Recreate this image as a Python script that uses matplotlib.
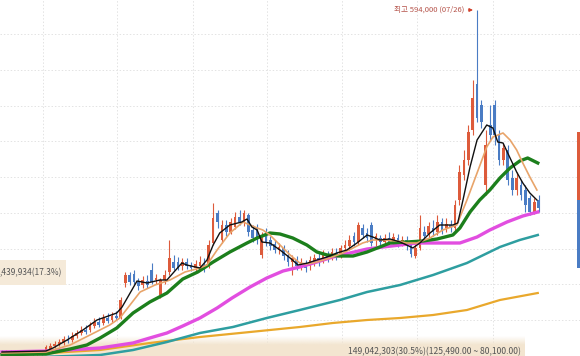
import matplotlib
matplotlib.use('Agg')
import matplotlib.pyplot as plt
import numpy as np
from matplotlib.patches import Rectangle

plt.rcParams['font.family'] = ['Noto Sans CJK KR', 'DejaVu Sans']

# ---- candle data (price, thousand won) ----
opens = [116.6,115.2,116.6,115.2,116.6,115.2,116.6,115.2,113.8,115.2,
         115.2,119.4,123.6,126.4,127.8,132.0,132.0,137.6,141.8,146.0,
         146.0,151.6,157.2,155.8,162.8,160.0,165.6,162.8,211.8,223.0,
         224.4,213.2,209.0,214.6,230.0,216.0,195.0,216.0,227.2,241.2,
         241.2,235.6,241.2,237.0,232.8,235.6,237.0,235.6,267.8,309.8,
         272.0,293.0,283.2,290.2,304.2,297.2,307.0,286.0,288.8,251.0,
         283.2,272.0,266.4,258.0,260.8,251.0,241.2,244.0,235.6,238.4,
         235.6,241.2,246.8,244.0,249.6,248.2,253.8,251.0,260.8,263.6,
         277.6,269.2,288.8,281.8,293.0,272.0,274.8,269.2,274.8,269.2,
         274.8,269.2,272.0,265.0,249.6,260.8,283.2,280.4,288.8,283.2,
         297.2,288.8,293.0,288.8,328.0,363.0,384.0,426.0,490.4,461.0,
         349.0,433.0,461.0,419.0,384.0,398.0,358.8,342.0,349.0,342.0,
         330.8,311.2,328.0]
closes = [115.2,116.6,115.2,116.6,115.9,116.6,115.2,113.8,115.2,113.8,
          122.2,123.6,126.4,129.2,133.4,130.6,137.6,141.8,146.0,143.2,
          151.6,157.2,153.0,162.8,158.6,165.6,162.8,188.0,223.0,213.2,
          213.2,207.6,216.0,209.0,213.2,218.8,216.0,223.0,246.8,232.8,
          232.8,241.2,235.6,232.8,238.4,241.2,232.8,265.0,302.8,297.2,
          293.0,283.2,297.2,304.2,297.2,309.8,283.2,274.8,272.0,277.6,
          269.2,263.6,258.0,262.2,249.6,241.2,246.8,235.6,241.2,232.8,
          244.0,246.8,241.2,251.0,246.8,255.2,249.6,260.8,265.0,272.0,
          269.2,293.0,279.0,274.8,267.8,277.6,269.2,274.8,269.2,276.2,
          269.2,272.0,263.6,252.4,260.8,288.8,277.6,291.6,283.2,297.2,
          286.0,294.4,288.8,321.0,367.2,384.0,423.2,470.8,442.8,437.2,
          405.0,419.0,419.0,384.0,400.8,356.0,342.0,358.8,335.0,321.0,
          311.2,325.2,316.8]
highs = [118.0,118.0,118.0,118.0,118.0,118.0,118.0,116.6,116.6,116.6,
         125.0,127.8,130.6,133.4,137.6,139.0,143.2,146.0,151.6,153.0,
         157.2,162.8,164.2,168.4,169.8,171.2,172.6,192.2,227.2,227.2,
         230.0,218.8,221.6,223.0,239.8,224.4,218.8,230.0,272.0,251.0,
         248.2,246.8,246.8,241.2,244.0,249.6,246.8,272.0,323.8,314.0,
         300.0,300.0,302.8,311.2,314.0,314.0,309.8,293.0,294.4,283.2,
         288.8,277.6,272.0,267.8,265.0,258.0,251.0,249.6,246.8,244.0,
         249.6,252.4,253.8,258.0,256.6,260.8,260.8,265.0,272.0,279.0,
         283.2,297.2,294.4,288.8,297.2,281.8,279.0,280.4,283.2,281.8,
         280.4,277.6,277.6,272.0,266.4,307.0,291.6,297.2,300.0,307.0,
         302.8,302.8,300.0,328.0,377.0,398.0,433.0,496.0,594.0,468.0,
         426.0,461.0,468.0,426.0,407.8,405.0,370.0,367.2,356.0,349.0,
         335.0,330.8,335.0]
lows = [113.8,113.8,113.8,113.8,113.8,112.4,112.4,111.0,111.0,111.0,
        113.8,118.0,120.8,123.6,125.0,127.8,129.2,134.8,139.0,140.4,
        143.2,148.8,150.2,153.0,155.8,157.2,160.0,161.4,206.2,209.0,
        210.4,202.0,204.8,204.8,210.4,210.4,190.8,210.4,223.0,230.0,
        230.0,230.0,231.4,228.6,227.2,230.0,227.2,232.8,265.0,288.8,
        267.8,277.6,280.4,287.4,293.0,291.6,277.6,269.2,266.4,246.8,
        263.6,258.0,253.8,252.4,244.0,235.6,223.0,230.0,230.0,227.2,
        230.0,235.6,235.6,239.8,241.2,244.0,244.0,246.8,255.2,258.0,
        263.6,265.0,274.8,269.2,263.6,263.6,262.2,263.6,263.6,265.0,
        262.2,263.6,258.0,248.2,246.8,258.0,272.0,274.8,277.6,279.0,
        280.4,283.2,283.2,283.2,321.0,356.0,377.0,419.0,437.2,428.8,
        335.0,412.0,405.0,377.0,377.0,349.0,335.0,335.0,328.0,311.2,
        307.0,308.4,311.2]

# ---- moving averages (bar index, price) ----
ma5_x = [0,10,11.6,14.8,18.4,21.6,26.1,27.3,30.7,33.0,35.9,37.5,38.9,40.9,42.0,45.0,46.6,48.0,49.5,51.8,
         54.5,55.7,56.8,58.0,59.1,60.9,63.2,65.5,67.3,69.5,71.6,73.9,76.1,78.4,80.7,83.0,84.3,85.9,88.2,90.5,
         92.0,93.4,95.0,97.3,99.5,102.5,103.6,104.8,106.4,108.0,110.2,111.6,112.7,113.9,115.5,117.0,118.4,120.0,121.6]
ma5_y = [115.2,116.6,120.8,132.0,146.0,160.0,169.8,178.2,214.6,211.8,216.0,216.0,225.8,239.8,237.0,232.8,244.0,265.0,281.8,293.0,
         297.2,301.4,290.2,286.0,269.2,267.8,258.0,246.8,237.0,239.8,244.0,248.2,253.8,258.0,267.8,279.0,276.2,272.0,273.4,269.2,
         265.0,260.8,267.8,281.8,293.0,293.0,295.8,328.0,374.2,412.0,433.0,428.8,409.2,407.8,386.8,367.2,351.8,337.8,328.0]

ma10_x = [0,10,11.6,15.5,20.0,24.5,26.8,29.1,31.4,34.8,38.2,41.6,45.0,46.6,48.9,51.8,54.8,56.4,58.0,59.3,
          60.9,63.2,65.5,67.7,69.3,71.6,74.5,77.5,79.8,82.0,84.3,86.6,89.8,92.0,94.3,97.3,100.2,103.4,105.7,108.0,
          110.2,111.6,113.9,115.5,117.0,118.4,120.0,121.6]
ma10_y = [113.8,115.2,118.0,125.0,139.0,153.0,162.8,181.0,199.2,209.0,216.0,227.2,232.8,237.0,258.0,281.8,297.2,293.0,288.8,286.0,
          279.0,265.0,251.0,239.8,238.4,241.2,246.8,253.8,260.8,267.8,272.0,272.0,270.6,267.8,267.8,274.8,286.0,293.0,328.0,365.8,
          402.2,416.2,421.8,412.0,398.0,379.8,360.2,342.0]

ma20_x = [0,10.0,15.5,19.3,22.3,26.1,29.8,33.6,37.5,41.1,44.5,48.0,51.8,55.7,58.0,60.9,63.2,66.1,69.3,71.6,
          73.9,76.8,79.8,83.0,85.9,88.2,92.0,95.7,98.9,102.5,104.1,106.4,108.6,110.9,113.2,115.5,117.7,119.5,121.8]
ma20_y = [111.5,112.4,119.4,125.0,134.8,148.8,169.8,185.2,197.8,217.4,227.2,241.2,255.2,267.8,274.8,281.8,280.4,274.8,265.0,255.2,
          251.0,249.6,249.6,255.2,262.2,267.8,269.2,270.6,273.4,279.0,288.8,311.2,328.0,342.0,358.8,372.8,382.6,386.8,379.8]

ma60_x = [0,10.9,22.3,29.8,33.6,37.5,41.1,45.0,48.9,52.3,56.4,60.2,63.9,67.7,71.6,75.2,79.1,83.0,86.6,90.5,
          94.3,98.0,101.8,104.1,108.0,110.9,114.8,118.4,121.8]
ma60_y = [115.2,116.6,120.8,127.8,134.8,141.8,151.6,162.8,176.8,190.8,206.2,218.8,228.6,234.2,241.2,248.2,253.8,259.4,262.2,265.0,
          267.8,267.8,267.8,267.8,276.2,286.0,297.2,305.6,311.2]

ma120_x = [8.6,22.3,29.8,37.5,45.0,52.5,60.2,67.7,76.8,83.0,90.5,98.0,105.7,113.2,117.7,121.8]
ma120_y = [108.2,111.0,118.0,129.2,141.8,150.2,162.8,174.0,188.0,199.2,209.0,223.0,239.8,262.2,272.0,279.0]

ma240_x = [0,10.9,22.3,33.6,45.0,56.4,67.7,75.2,83.0,90.5,98.0,105.7,113.2,121.8]
ma240_y = [112.4,113.8,118.0,127.8,136.2,143.2,150.2,155.8,160.0,162.8,167.0,174.0,188.0,197.8]

# ---- labels / annotations ----
high_label = '최고 594,000 (07/26)'
high_price = 594.0
high_index = 108
profile_low, profile_high = 80.1, 125.49
profile_label = '149,042,303(30.5%)(125,490.00 ~ 80,100.00)'
profile2_low, profile2_high = 209.0, 244.0
profile2_label = ',439,934(17.3%)'
ratio_levels = [423.2, 328.0, 232.8]   # top of red, split, bottom of blue
grid_prices = [160, 210, 260, 310, 360, 410, 460, 510, 560]
grid_idx = [9.3, 26.1, 43.4, 60.2, 77.3, 94.3, 111.6]

RED = '#dd5b3b'
BLUE = '#4a7cc4'
GRID = '#e3e3e3'

fig = plt.figure(figsize=(5.8, 3.56), dpi=100)
ax = fig.add_axes([0, 0, 1, 1])
ax.axis('off')

for g in grid_prices:
    ax.axhline(g, color=GRID, lw=0.7, ls=(0, (1.5, 2)), zorder=0)
for g in grid_idx:
    ax.axvline(g, color=GRID, lw=0.7, ls=(0, (1.5, 2)), zorder=0)

# volume profile band at the bottom
band_end = 118.8
ax.add_patch(Rectangle((-1, profile_low), band_end + 1, profile_high - profile_low,
                       facecolor='#f3e5d0', edgecolor='none', zorder=1))
grad = np.zeros((40, 2, 4))
base = np.array([0xf3, 0xe5, 0xd0]) / 255.0
grad[:, :, :3] = base
grad[:, :, 3] = np.linspace(1, 0, 40)[:, None] * np.ones((1, 2))
ax.imshow(grad, extent=(-1, band_end, profile_high, profile_high + 12), aspect='auto',
          origin='lower', zorder=1, interpolation='bilinear')
ax.text(band_end - 0.8, 116.0, profile_label, ha='right', va='center', fontsize=6.2,
        color='#555555', zorder=6)

ax.add_patch(Rectangle((-1, profile2_low), 15.6, profile2_high - profile2_low,
                       facecolor='#f5ead9', edgecolor='none', zorder=1))
ax.text(-0.45, (profile2_low + profile2_high) / 2, profile2_label, ha='left', va='center',
        fontsize=6.0, color='#555555', zorder=6)

# candles
for i, (o, c, h, l) in enumerate(zip(opens, closes, highs, lows)):
    col = RED if c >= o else BLUE
    ax.vlines(i, l, h, color=col, lw=0.8, zorder=2)
    ax.bar(i, max(abs(c - o), 1.0), bottom=min(o, c), width=0.62, color=col,
           edgecolor='none', zorder=2)

# moving averages
ax.plot(ma240_x, ma240_y, color='#e9a82c', lw=1.6, zorder=3)
ax.plot(ma120_x, ma120_y, color='#2e9ea0', lw=1.8, zorder=3)
ax.plot(ma60_x, ma60_y, color='#e24ee0', lw=2.4, zorder=3)
ax.plot(ma20_x, ma20_y, color='#1c7f1c', lw=2.4, zorder=4)
ax.plot(ma10_x, ma10_y, color='#e8a46a', lw=1.2, zorder=4)
ax.plot(ma5_x, ma5_y, color='#111111', lw=1.0, zorder=5)

# highest price annotation
ax.annotate('', xy=(high_index - 0.3, high_price), xytext=(high_index - 2.6, high_price),
            arrowprops=dict(arrowstyle='-|>', color='#d0402a', lw=0.8, mutation_scale=5),
            zorder=6)
ax.text(high_index - 2.9, high_price, high_label, ha='right', va='center', fontsize=5.5,
        color='#b5534a', zorder=6)

# buy/sell ratio bar at right edge
ax.bar(131.0, ratio_levels[0] - ratio_levels[1], bottom=ratio_levels[1], width=0.7,
       color=RED, edgecolor='none', zorder=2)
ax.bar(131.0, ratio_levels[1] - ratio_levels[2], bottom=ratio_levels[2], width=0.7,
       color=BLUE, edgecolor='none', zorder=2)

ax.set_xlim(-0.45, 131.4)
ax.set_ylim(109.6, 608)
fig.savefig('out.png', dpi=100)
